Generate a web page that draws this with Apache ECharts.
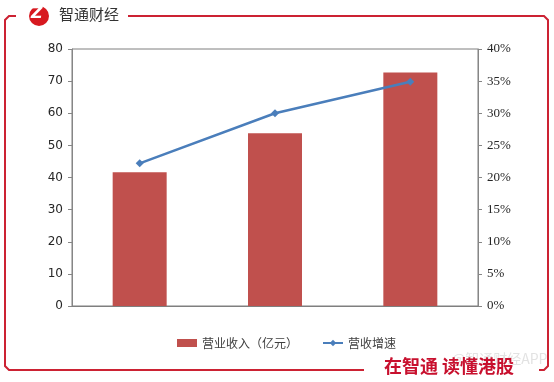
<!DOCTYPE html>
<html><head><meta charset="utf-8">
<script src="https://cdn.jsdelivr.net/npm/echarts@6/dist/echarts.min.js"></script>
<style>html,body{margin:0;padding:0;background:#fff}#c{width:554px;height:382px}</style>
</head><body><div id="c"></div>
<script>
var categories = ['期1', '期2', '期3'];
var revenue = [41.6, 53.8, 72.7];
var growth = [22.2, 30.0, 34.9];
var leftTicks = {min: 0, max: 80, interval: 10};
var rightTicks = {min: 0, max: 40, interval: 5};
var revenueName = '营业收入（亿元）';
var growthName = '营收增速';

var red = '#cc2233';
var chart = echarts.init(document.getElementById('c'), null, {renderer: 'canvas'});
chart.setOption({
  animation: false,
  backgroundColor: '#fff',
  grid: {left: 72, right: 76, top: 49, bottom: 76, show: true, borderColor: '#7f7f7f', borderWidth: 1, containLabel: false},
  legend: {
    top: 332, left: 172, itemGap: 24, itemWidth: 20, itemHeight: 8,
    textStyle: {fontSize: 12, color: '#404040', fontFamily: 'Noto Sans CJK SC'},
    data: [{name: revenueName, icon: 'rect'}, {name: growthName}]
  },
  xAxis: {type: 'category', data: categories, axisLabel: {show: false}, axisTick: {show: false},
    axisLine: {lineStyle: {color: '#7f7f7f'}}},
  yAxis: [
    {type: 'value', min: leftTicks.min, max: leftTicks.max, interval: leftTicks.interval, splitLine: {show: false},
      axisLine: {show: true, lineStyle: {color: '#868686'}}, axisTick: {show: true, length: 4, lineStyle: {color: '#868686'}},
      axisLabel: {margin: 9, fontSize: 12, color: '#262626', fontFamily: 'DejaVu Sans'}},
    {type: 'value', min: rightTicks.min, max: rightTicks.max, interval: rightTicks.interval, splitLine: {show: false},
      axisLine: {show: true, lineStyle: {color: '#868686'}}, axisTick: {show: true, length: 4, lineStyle: {color: '#868686'}},
      axisLabel: {margin: 9, fontSize: 13, color: '#262626', fontFamily: 'Liberation Serif', formatter: '{value}%'}}
  ],
  series: [
    {name: revenueName, type: 'bar', data: revenue, barWidth: 54, itemStyle: {color: '#c0504d'}},
    {name: growthName, type: 'line', yAxisIndex: 1, data: growth, symbol: 'diamond', symbolSize: 8,
      lineStyle: {color: '#4a7ebb', width: 2.5}, itemStyle: {color: '#4a7ebb'}}
  ],
  graphic: [
    {type: 'polyline', shape: {points: [[16,16],[9,16],[5,20],[5,366],[9,370],[364,370]]},
      style: {stroke: red, lineWidth: 2, fill: null}},
    {type: 'polyline', shape: {points: [[128,16],[544,16],[548,20],[548,366],[544,370],[539,370]]},
      style: {stroke: red, lineWidth: 2, fill: null}},
    {type: 'circle', shape: {cx: 39, cy: 16, r: 10}, style: {fill: '#d71920'}},
    {type: 'text', left: 31, top: 6, style: {text: 'Z', fill: '#fff', font: 'italic bold 16px DejaVu Sans'}},
    {type: 'text', left: 59, top: 7, style: {text: '智通财经', fill: '#333', font: '15px "Noto Sans CJK SC"'}},
    {type: 'text', left: 452, top: 352, style: {text: '@智通财经APP', fill: 'rgba(190,190,190,0.45)', font: '14px "Noto Sans CJK SC"'}},
    {type: 'text', left: 384, top: 357, style: {text: '在智通 读懂港股', fill: '#c8102e', font: 'bold 18px "Noto Sans CJK SC"'}}
  ]
});
</script></body></html>
